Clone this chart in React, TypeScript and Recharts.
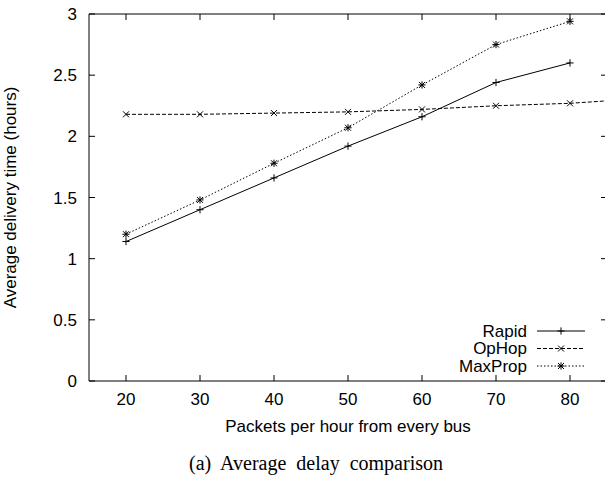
import React from 'react'
import { LineChart, Line, XAxis, YAxis, ReferenceLine } from 'recharts'

// packets per hour (x) and average delivery time in hours
const packets = [20, 30, 40, 50, 60, 70, 80, 90]
const rapid = [1.14, 1.4, 1.66, 1.92, 2.16, 2.44, 2.6]
const opHop = [2.18, 2.18, 2.19, 2.2, 2.22, 2.25, 2.27, 2.31]
const maxProp = [1.2, 1.48, 1.78, 2.07, 2.42, 2.75, 2.94]

const xTicks = [20, 30, 40, 50, 60, 70, 80]
const yTicks = [0, 0.5, 1, 1.5, 2, 2.5, 3]

const SANS = '"Liberation Sans", Arial, Helvetica, sans-serif'
const INK = '#000'

// layout
const CHART_W = 607
const CHART_H = 479
const Y_AXIS_W = 89
const X_AXIS_H = 98
const MARGIN_TOP = 14
const PLOT_TOP = MARGIN_TOP
const PLOT_BOTTOM = CHART_H - X_AXIS_H
const PLOT_LEFT = Y_AXIS_W
const PLOT_RIGHT = CHART_W
const TICK = 6

type Marker = 'plus' | 'cross' | 'star'

function markerPath(kind: Marker, cx: number, cy: number) {
  const p = 3.6
  const c = 3
  const plus = `M${cx - p},${cy}H${cx + p}M${cx},${cy - p}V${cy + p}`
  const cross = `M${cx - c},${cy - c}L${cx + c},${cy + c}M${cx - c},${cy + c}L${cx + c},${cy - c}`
  if (kind === 'plus') return plus
  if (kind === 'cross') return cross
  return plus + cross
}

const SERIES: { key: string; name: string; marker: Marker; dash?: string }[] = [
  { key: 'rapid', name: 'Rapid', marker: 'plus' },
  { key: 'opHop', name: 'OpHop', marker: 'cross', dash: '4 2' },
  { key: 'maxProp', name: 'MaxProp', marker: 'star', dash: '1.5 2' },
]

const data = packets.map((x, i) => ({
  x,
  rapid: rapid[i] ?? null,
  opHop: opHop[i] ?? null,
  maxProp: maxProp[i] ?? null,
}))

function makeDot(kind: Marker) {
  return (props: any) => {
    const { cx, cy, index, payload } = props
    const k = `${kind}-${index}`
    if (cx == null || cy == null || payload == null) return <g key={k} />
    return <path key={k} d={markerPath(kind, cx, cy)} stroke={INK} strokeWidth={1} fill="none" />
  }
}

// gnuplot-style ticks: pointing inward, mirrored on the opposite side
function XTick(props: any) {
  const { x, y, payload } = props
  return (
    <g>
      <line x1={x} x2={x} y1={PLOT_BOTTOM} y2={PLOT_BOTTOM - TICK} stroke={INK} />
      <line x1={x} x2={x} y1={PLOT_TOP} y2={PLOT_TOP + TICK} stroke={INK} />
      <text x={x} y={y} dy="0.71em" textAnchor="middle" fontFamily={SANS} fontSize={17} fill={INK}>
        {payload.value}
      </text>
    </g>
  )
}

function YTick(props: any) {
  const { x, y, payload } = props
  return (
    <g>
      <line x1={PLOT_LEFT} x2={PLOT_LEFT + TICK} y1={y} y2={y} stroke={INK} />
      <line x1={PLOT_RIGHT} x2={PLOT_RIGHT - TICK} y1={y} y2={y} stroke={INK} />
      <text x={x} y={y} dy="0.355em" textAnchor="end" fontFamily={SANS} fontSize={17} fill={INK}>
        {payload.value}
      </text>
    </g>
  )
}

function ChartLegend() {
  const rowY = [331, 348.5, 366]
  return (
    <svg
      width={605}
      height={479}
      style={{ position: 'absolute', left: 0, top: 0, pointerEvents: 'none' }}
    >
      {SERIES.map((s, i) => (
        <g key={s.key}>
          <text
            x={527}
            y={rowY[i]}
            textAnchor="end"
            dominantBaseline="central"
            fontFamily={SANS}
            fontSize={17}
            fill={INK}
          >
            {s.name}
          </text>
          <line x1={537} x2={585} y1={rowY[i]} y2={rowY[i]} stroke={INK} strokeDasharray={s.dash} />
          <path d={markerPath(s.marker, 561, rowY[i])} stroke={INK} fill="none" />
        </g>
      ))}
      <text
        x={189}
        y={470}
        fontFamily='"Liberation Serif", "Times New Roman", serif'
        fontSize={20}
        wordSpacing={5}
        fill={INK}
      >
        (a) Average delay comparison
      </text>
    </svg>
  )
}

export default function App() {
  return (
    <div style={{ position: 'absolute', left: 0, top: 0, width: 605, height: 479, overflow: 'hidden', background: '#fff' }}>
      <LineChart width={CHART_W} height={CHART_H} data={data} margin={{ top: MARGIN_TOP, right: 0, bottom: 0, left: 0 }}>
        <XAxis
          dataKey="x"
          type="number"
          domain={[15, 85]}
          allowDataOverflow
          ticks={xTicks}
          height={X_AXIS_H}
          tickSize={0}
          tickMargin={12}
          tick={<XTick />}
          tickLine={false}
          axisLine={{ stroke: INK }}
          label={{
            position: 'insideTop',
            content: (p: any) => (
              <text
                x={p.viewBox.x + p.viewBox.width / 2}
                y={p.viewBox.y + 51}
                textAnchor="middle"
                fontFamily={SANS}
                fontSize={17}
                fill={INK}
              >
                Packets per hour from every bus
              </text>
            ),
          }}
        />
        <YAxis
          type="number"
          domain={[0, 3]}
          ticks={yTicks}
          width={Y_AXIS_W}
          tickSize={0}
          tickMargin={12}
          tick={<YTick />}
          tickLine={false}
          axisLine={{ stroke: INK }}
          label={{
            position: 'insideLeft',
            content: (p: any) => {
              const cx = p.viewBox.x + 10
              const cy = p.viewBox.y + p.viewBox.height / 2
              return (
                <text
                  x={cx}
                  y={cy}
                  transform={`rotate(-90, ${cx}, ${cy})`}
                  textAnchor="middle"
                  dominantBaseline="central"
                  fontFamily={SANS}
                  fontSize={17}
                  fill={INK}
                >
                  Average delivery time (hours)
                </text>
              )
            },
          }}
        />
        {/* top and right border of the frame */}
        <ReferenceLine y={3} stroke={INK} ifOverflow="visible" />
        <ReferenceLine x={85} stroke={INK} ifOverflow="visible" />
        {SERIES.map((s) => (
          <Line
            key={s.key}
            dataKey={s.key}
            name={s.name}
            type="linear"
            stroke={INK}
            strokeWidth={1}
            strokeDasharray={s.dash}
            dot={makeDot(s.marker)}
            activeDot={false}
            isAnimationActive={false}
          />
        ))}
      </LineChart>
      <ChartLegend />
    </div>
  )
}
